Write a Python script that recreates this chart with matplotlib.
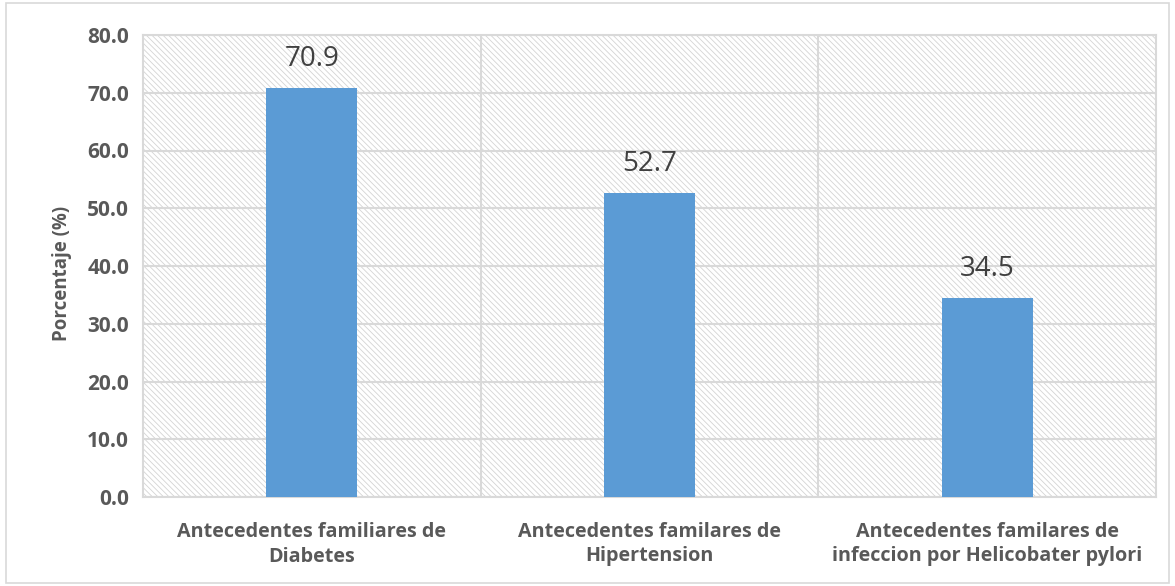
import numpy as np
import matplotlib
matplotlib.use('Agg')
from matplotlib import pyplot as plt
from matplotlib.patches import Rectangle

categorias = ['Antecedentes familiares de\nDiabetes',
              'Antecedentes familares de\nHipertension',
              'Antecedentes familares de\ninfeccion por Helicobater pylori']
porcentajes = [70.9, 52.7, 34.5]
yticks = [0, 10, 20, 30, 40, 50, 60, 70, 80]

plt.rcParams['font.family'] = ['Open Sans', 'DejaVu Sans']
plt.rcParams['hatch.linewidth'] = 0.6
plt.rcParams['hatch.color'] = '#d4d4d4'

gris = '#595959'
linea = '#d9d9d9'

fig = plt.figure(figsize=(11.75, 5.86), dpi=100)
# marco exterior
fig.patches.append(Rectangle((0.005, 0.005), 0.99, 0.99, transform=fig.transFigure,
                             fill=False, edgecolor=linea, linewidth=1.2))

ax = fig.add_axes([143/1175, 1-497/586, (1156-143)/1175, (497-35)/586])
x = np.arange(len(categorias))

# fondo rayado
ax.add_patch(Rectangle((0, 0), 1, 1, transform=ax.transAxes, facecolor='white',
                       hatch='\\\\\\\\\\\\', edgecolor='#d4d4d4', linewidth=0, zorder=0))

ax.bar(x, porcentajes, width=0.27, color='#5b9bd5', zorder=3)
for xi, v in zip(x, porcentajes):
    ax.text(xi, v + 3.7, '%.1f' % v, ha='center', va='baseline', fontsize=20, color='#404040')

ax.set_xlim(-0.5, 2.5)
ax.set_ylim(0, 80)
ax.set_yticks(yticks)
ax.set_yticklabels(['%.1f' % t for t in yticks])
ax.set_xticks(x)
ax.set_xticklabels(categorias, fontsize=14.2, fontweight='bold', color=gris, linespacing=1.3)
for lab in ax.get_yticklabels():
    lab.set_fontsize(15)
    lab.set_fontweight('bold')
    lab.set_color(gris)
ax.tick_params(length=0, pad=10)
ax.tick_params(axis='x', pad=18)

ax.set_axisbelow(True)
ax.grid(axis='y', color=linea, linewidth=1.5, zorder=1)
for b in [0.5, 1.5]:
    ax.axvline(b, color=linea, linewidth=1.5, zorder=1)
for s in ax.spines.values():
    s.set_color(linea)
    s.set_linewidth(1.5)

ax.set_ylabel('Porcentaje (%)', fontsize=13.5, fontweight='bold', color=gris, labelpad=11)
ax.yaxis.label.set_y(0.483)

plt.savefig('out.png', dpi=100)
